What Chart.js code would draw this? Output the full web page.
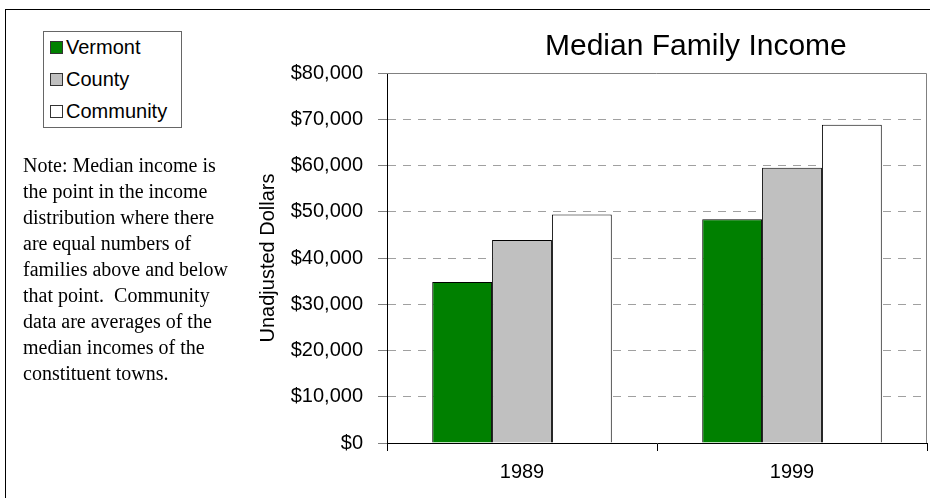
<!DOCTYPE html>
<html>
<head>
<meta charset="utf-8">
<script src="https://cdn.jsdelivr.net/npm/chart.js@4.4.1/dist/chart.umd.min.js"></script>
<style>
  html, body { margin: 0; padding: 0; background: #fff; overflow: hidden; }
  #wrap { position: relative; width: 930px; height: 498px; overflow: hidden; }
  #frame { position: absolute; left: 5px; top: 9px; width: 1000px; height: 1000px; border: 1px solid #000; }
  #chart { position: absolute; left: 0; top: 0; }
  #title { position: absolute; left: 545px; top: 30px; font: 30px "Liberation Sans", Arial, sans-serif; line-height: 30px; white-space: nowrap; color: #000; }
  #legend { position: absolute; left: 43px; top: 31px; width: 137px; border: 1px solid #666; background: #fff; }
  .item { display: flex; align-items: center; height: 31.67px; padding-left: 6px; font: 20px "Liberation Sans", Arial, sans-serif; color: #000; }
  .swatch { width: 11px; height: 11px; border: 1px solid #333; margin-right: 3px; }
  #note { position: absolute; left: 23px; top: 152px; font: 20px "Liberation Serif", "Times New Roman", serif; line-height: 26px; white-space: pre; color: #000; }
</style>
</head>
<body>
<div id="wrap">
  <div id="frame"></div>
  <canvas id="chart" width="930" height="498"></canvas>
  <div id="title">Median Family Income</div>
  <div id="legend"></div>
  <div id="note">Note: Median income is
the point in the income
distribution where there
are equal numbers of
families above and below
that point.  Community
data are averages of the
median incomes of the
constituent towns.</div>
</div>
<script>
// data
const categories = ['1989', '1999'];
const vermont = [34800, 48400];
const county = [43900, 59500];
const community = [49400, 68800];
const seriesNames = ['Vermont', 'County', 'Community'];
const seriesColors = ['#008000', '#c0c0c0', '#ffffff'];
const yMax = 80000;
const yStep = 10000;

const seriesValues = [vermont, county, community];

// legend box
const legend = document.getElementById('legend');
seriesNames.forEach((name, i) => {
    const row = document.createElement('div');
    row.className = 'item';
    row.innerHTML = `<span class="swatch" style="background:${seriesColors[i]}"></span>${name}`;
    legend.appendChild(row);
});

// grey frame on top and right of the plot
const plotFrame = {
    id: 'plotFrame',
    afterDraw(chart) {
        const {ctx, chartArea: a} = chart;
        ctx.save();
        ctx.strokeStyle = '#808080';
        ctx.lineWidth = 1;
        ctx.beginPath();
        ctx.moveTo(a.left, a.top + 0.5);
        ctx.lineTo(a.right - 0.5, a.top + 0.5);
        ctx.lineTo(a.right - 0.5, a.bottom);
        ctx.stroke();
        ctx.restore();
    }
};

const ctx = document.getElementById('chart').getContext('2d');
const incomeChart = new Chart(ctx, {
    type: 'bar',
    data: {
        labels: categories,
        datasets: seriesNames.map((name, i) => ({
            label: name,
            data: seriesValues[i],
            backgroundColor: seriesColors[i],
            borderColor: '#000',
            borderWidth: 1,
            barPercentage: 1,
            categoryPercentage: 0.665
        }))
    },
    options: {
        responsive: false,
        animation: false,
        layout: { padding: { left: 250, right: 3, top: 73, bottom: 0 } },
        plugins: {
            legend: { display: false },
            title: { display: false },
            tooltip: { enabled: false }
        },
        scales: {
            x: {
                afterFit: s => { s.height = 55; },
                grid: {
                    offset: true,
                    drawOnChartArea: false,
                    tickLength: 8,
                    tickColor: '#000'
                },
                border: { color: '#000', width: 1 },
                ticks: {
                    color: '#000',
                    padding: 9,
                    font: { family: '"Liberation Sans", Arial, sans-serif', size: 20 }
                }
            },
            y: {
                min: 0,
                max: yMax,
                afterFit: s => { s.width = 137; },
                grid: {
                    color: c => (c.tick && (c.tick.value === 0 || c.tick.value === yMax)) ? 'rgba(0,0,0,0)' : '#a0a0a0',
                    tickColor: '#808080',
                    tickLength: 9
                },
                border: { color: '#000', width: 1, dash: [8, 7] },
                ticks: {
                    stepSize: yStep,
                    color: '#000',
                    padding: 15,
                    font: { family: '"Liberation Sans", Arial, sans-serif', size: 20 },
                    callback: v => '$' + v.toLocaleString('en-US')
                },
                title: {
                    display: true,
                    text: 'Unadjusted Dollars',
                    color: '#000',
                    padding: { top: 6, bottom: 0 },
                    font: { family: '"Liberation Sans", Arial, sans-serif', size: 20 }
                }
            }
        }
    },
    plugins: [plotFrame]
});
</script>
</body>
</html>
